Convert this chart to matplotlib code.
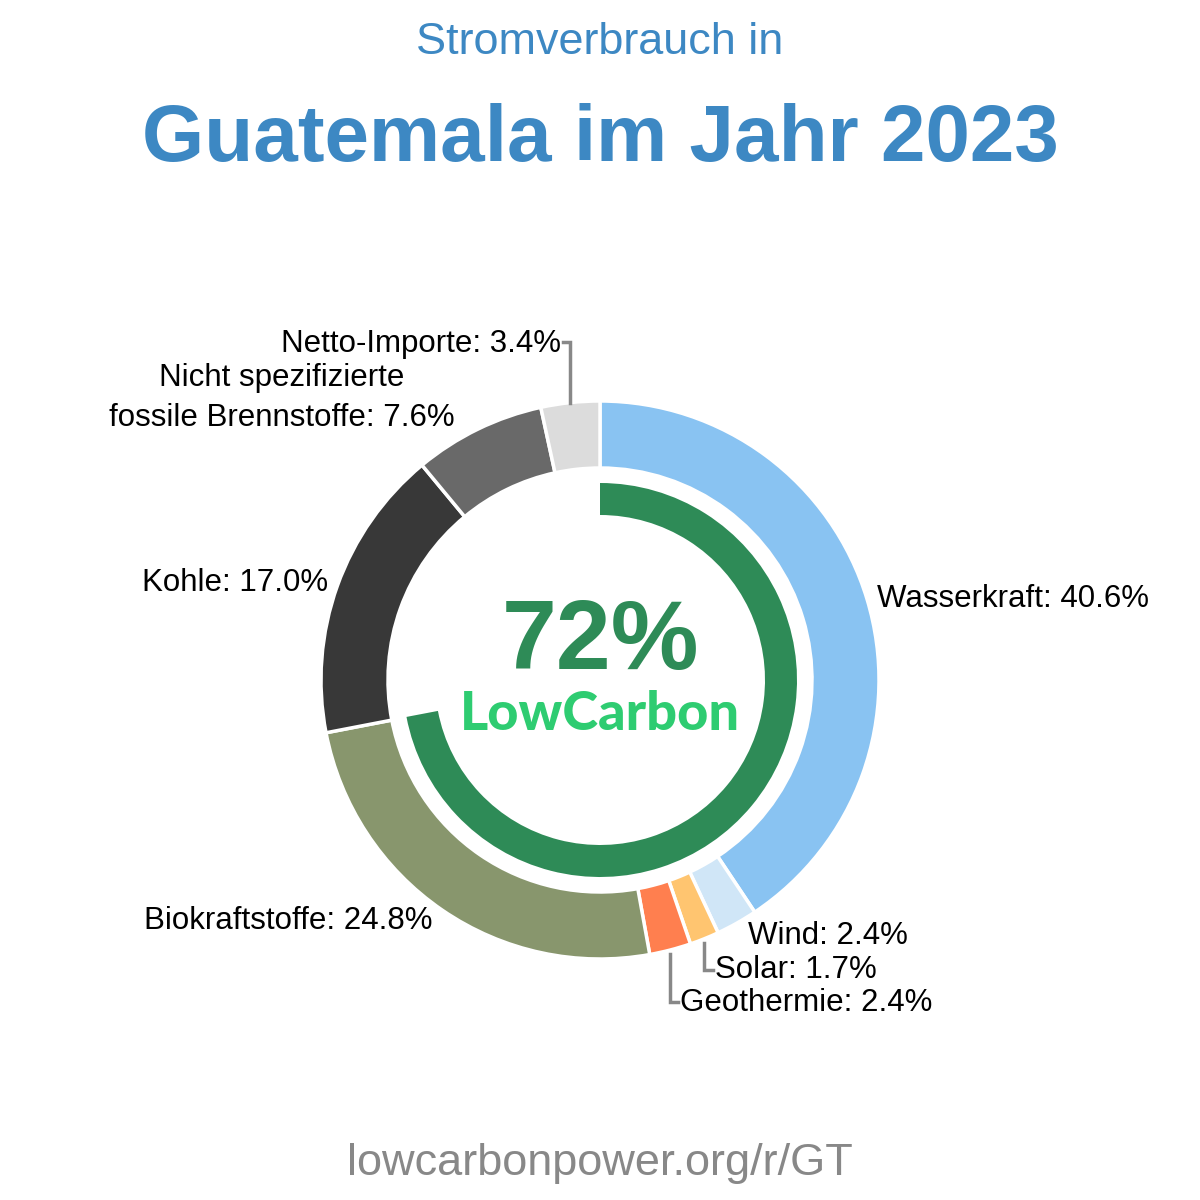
import numpy as np
import matplotlib
matplotlib.use('Agg')
import matplotlib.pyplot as plt

# Electricity mix, clockwise from the top
sources = ["Wasserkraft", "Wind", "Solar", "Geothermie", "Biokraftstoffe",
           "Kohle", "Nicht spezifizierte\nfossile Brennstoffe", "Netto-Importe"]
shares = [40.6, 2.4, 1.7, 2.4, 24.8, 17.0, 7.6, 3.4]
colors = ["#89c3f2", "#d0e6f7", "#ffc570", "#ff7f4f", "#88966d",
          "#383838", "#696969", "#dcdcdc"]
low_carbon_share = 72

plt.rcParams['font.family'] = ['Liberation Sans', 'DejaVu Sans']

fig = plt.figure(figsize=(12, 12), dpi=100)
fig.patch.set_facecolor('white')
ax = fig.add_axes([0, 0, 1, 1])
ax.set_xlim(0, 1200)
ax.set_ylim(0, 1200)
ax.set_aspect('equal')
ax.axis('off')

cx, cy = 600, 520
r_out, w_out = 279, 67
r_in, w_in = 197, 32

ax.pie(shares, radius=r_out, center=(cx, cy), startangle=90, counterclock=False,
       colors=colors, wedgeprops={'width': w_out, 'edgecolor': 'white', 'linewidth': 2.5})
ax.pie([low_carbon_share, 100 - low_carbon_share], radius=r_in, center=(cx, cy),
       startangle=90, counterclock=False, colors=['#2e8b57', 'none'],
       wedgeprops={'width': w_in, 'edgecolor': 'none'})
ax.set_xlim(0, 1200)
ax.set_ylim(0, 1200)


def mid_point(i, r):
    start = sum(shares[:i])
    mid = start + shares[i] / 2
    ang = np.deg2rad(90 - mid / sum(shares) * 360)
    return cx + r * np.cos(ang), cy + r * np.sin(ang)


def label(i):
    return f"{sources[i]}: {shares[i]:.1f}%"


fs = 22.5
ax.text(877, 1200 - 599, label(0), fontsize=fs, ha='left', va='center')
ax.text(748, 1200 - 936, label(1), fontsize=fs, ha='left', va='center')
ax.text(715, 1200 - 970, label(2), fontsize=fs, ha='left', va='center')
ax.text(680, 1200 - 1003, label(3), fontsize=fs, ha='left', va='center')
ax.text(432, 1200 - 921, label(4), fontsize=fs, ha='right', va='center')
ax.text(328, 1200 - 583, label(5), fontsize=fs, ha='right', va='center')
ax.text(282, 1200 - 398, label(6), fontsize=fs, ha='center', va='center',
        linespacing=1.4, multialignment='center')
ax.text(561, 1200 - 344, label(7), fontsize=fs, ha='right', va='center')

# leader lines
lc = '#888888'
x0, y0 = mid_point(7, r_out)
ax.plot([x0, x0, 563], [y0, 1200 - 342, 1200 - 342], color=lc, lw=2.5,
        solid_joinstyle='miter')
x0, y0 = mid_point(2, r_out)
ax.plot([x0, x0, 713], [y0 - 4, 1200 - 970, 1200 - 970], color=lc, lw=2.5,
        solid_joinstyle='miter')
x0, y0 = mid_point(3, r_out)
ax.plot([x0, x0, 678], [y0 - 4, 1200 - 1002, 1200 - 1002], color=lc, lw=2.5,
        solid_joinstyle='miter')

# centre text
ax.text(cx, 1200 - 643, f"{low_carbon_share}%", fontsize=71, fontweight='bold',
        color='#2e8b57', ha='center', va='center')
ax.text(cx, 1200 - 715, "LowCarbon", fontsize=39, fontweight='black',
        family=['Lato', 'DejaVu Sans'], color='#2ecc71', ha='center', va='center')

# titles
ax.text(600, 1200 - 43, "Stromverbrauch in", fontsize=32.4, color='#3d88c3',
        ha='center', va='center')
ax.text(600, 1200 - 141, "Guatemala im Jahr 2023", fontsize=57.6, fontweight='bold',
        color='#3d88c3', ha='center', va='center')
ax.text(600, 1200 - 1163, "lowcarbonpower.org/r/GT", fontsize=32.5, color='#888888',
        ha='center', va='center')

fig.savefig('out.png', dpi=100, facecolor='white')
